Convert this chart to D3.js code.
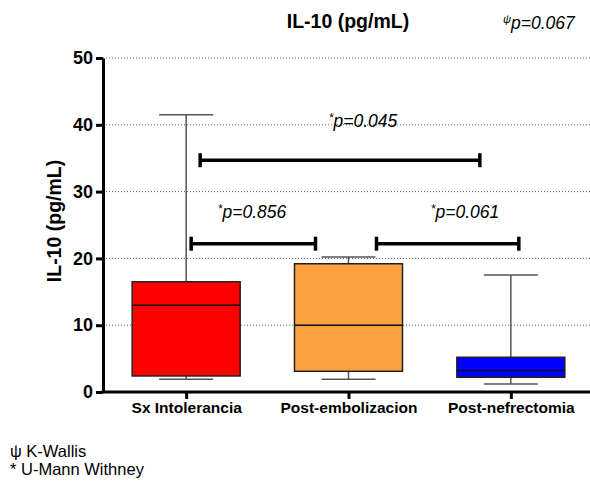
<!DOCTYPE html>
<html>
<head>
<meta charset="utf-8">
<script src="https://cdn.jsdelivr.net/npm/d3@7"></script>
<style>
  html, body { margin: 0; padding: 0; background: #fff; }
  svg { display: block; font-family: Arial, "Liberation Sans", sans-serif; }
</style>
</head>
<body>
<svg id="chart" width="590" height="483"></svg>
<script>
// Groups and their box-plot summaries (IL-10, pg/mL)
const groups = ["Sx Intolerancia", "Post-embolizacion", "Post-nefrectomia"];
const mins    = [1.9, 1.9, 1.2];
const q1s     = [2.4, 3.1, 2.2];
const medians = [13.0, 10.0, 3.2];
const q3s     = [16.5, 19.2, 5.2];
const maxs    = [41.5, 20.2, 17.5];
const colors  = ["#ff0000", "#fba13f", "#0000ff"];

const yTicks = [0, 10, 20, 30, 40, 50];

// Pairwise comparisons: from group, to group, bracket height, label
const compFrom   = [0, 1, 0];
const compTo     = [1, 2, 2];
const compLevel  = [22.2, 22.2, 34.7];
const compLabels = ["*p=0.856", "*p=0.061", "*p=0.045"];

const svg = d3.select("#chart");
const plotL = 103, plotR = 590, plotT = 58, plotB = 392;
const FONT = "Arial, 'Liberation Sans', sans-serif";

const y = d3.scaleLinear().domain([0, 50]).range([plotB, plotT]);
const x = d3.scalePoint().domain(groups).range([105, 592]).padding(0.5);

// Dotted grid lines
svg.append("g").selectAll("line")
  .data(yTicks.filter(d => d > 0))
  .join("line")
  .attr("x1", plotL).attr("x2", plotR)
  .attr("y1", d => y(d)).attr("y2", d => y(d))
  .attr("stroke", "#666").attr("stroke-width", 1)
  .attr("stroke-dasharray", "1,2");

// Y axis
const yAxis = svg.append("g").attr("transform", `translate(${plotL},0)`)
  .call(d3.axisLeft(y).tickValues(yTicks).tickSize(7).tickPadding(3).tickSizeOuter(0));
yAxis.select(".domain").attr("stroke", "#000").attr("stroke-width", 3);
yAxis.selectAll(".tick line").attr("stroke", "#000").attr("stroke-width", 3);
yAxis.selectAll(".tick text")
  .attr("font-size", 18).attr("font-weight", "bold").attr("fill", "#000")
  .attr("font-family", FONT);

// X axis
const xAxis = svg.append("g").attr("transform", `translate(0,${plotB})`)
  .call(d3.axisBottom(x).tickSize(7).tickPadding(3).tickSizeOuter(0));
xAxis.select(".domain").attr("stroke", "#000").attr("stroke-width", 3)
  .attr("d", `M${plotL - 1.5},0H${plotR}`);
xAxis.selectAll(".tick line").attr("stroke", "#000").attr("stroke-width", 3);
xAxis.selectAll(".tick text")
  .attr("font-size", 15.5).attr("font-weight", "bold").attr("fill", "#000")
  .attr("font-family", FONT);

// Box plots
const boxW = 108, capW = 54;
const boxes = svg.append("g").selectAll("g")
  .data(groups.map((g, i) => ({ g, i })))
  .join("g")
  .attr("transform", d => `translate(${x(d.g)},0)`);

boxes.append("line") // upper whisker
  .attr("x1", 0).attr("x2", 0)
  .attr("y1", d => y(maxs[d.i])).attr("y2", d => y(q3s[d.i]))
  .attr("stroke", "#555").attr("stroke-width", 1.5);
boxes.append("line") // lower whisker
  .attr("x1", 0).attr("x2", 0)
  .attr("y1", d => y(mins[d.i])).attr("y2", d => y(q1s[d.i]))
  .attr("stroke", "#555").attr("stroke-width", 1.5);
boxes.append("line") // upper cap
  .attr("x1", -capW / 2).attr("x2", capW / 2)
  .attr("y1", d => y(maxs[d.i])).attr("y2", d => y(maxs[d.i]))
  .attr("stroke", "#555").attr("stroke-width", 1.5);
boxes.append("line") // lower cap
  .attr("x1", -capW / 2).attr("x2", capW / 2)
  .attr("y1", d => y(mins[d.i])).attr("y2", d => y(mins[d.i]))
  .attr("stroke", "#555").attr("stroke-width", 1.5);
boxes.append("rect")
  .attr("x", -boxW / 2).attr("width", boxW)
  .attr("y", d => y(q3s[d.i]))
  .attr("height", d => y(q1s[d.i]) - y(q3s[d.i]))
  .attr("fill", d => colors[d.i])
  .attr("stroke", "#222").attr("stroke-width", 1.5);
boxes.append("line") // median
  .attr("x1", -boxW / 2).attr("x2", boxW / 2)
  .attr("y1", d => y(medians[d.i])).attr("y2", d => y(medians[d.i]))
  .attr("stroke", "#111").attr("stroke-width", 1.5);

// Comparison brackets
const brackets = svg.append("g");
const bracketInset = [[5, 33], [28, -8], [14, 31]];
compLabels.forEach((lab, k) => {
  const x1 = x(groups[compFrom[k]]) + bracketInset[k][0];
  const x2 = x(groups[compTo[k]]) - bracketInset[k][1];
  const yy = y(compLevel[k]);
  brackets.append("line").attr("x1", x1).attr("x2", x2).attr("y1", yy).attr("y2", yy)
    .attr("stroke", "#000").attr("stroke-width", 3.5);
  [x1, x2].forEach(xx => brackets.append("line")
    .attr("x1", xx).attr("x2", xx).attr("y1", yy - 7).attr("y2", yy + 7)
    .attr("stroke", "#000").attr("stroke-width", 3.5));
});

// p-value labels
const labelPos = [[252, 218], [465, 218], [363, 127]];
compLabels.forEach((lab, k) => {
  const t = svg.append("text")
    .attr("x", labelPos[k][0]).attr("y", labelPos[k][1])
    .attr("text-anchor", "middle").attr("font-size", 17.5)
    .attr("font-style", "italic").attr("fill", "#000");
  t.append("tspan").attr("font-size", 12).attr("dy", -5).text("*");
  t.append("tspan").attr("dy", 5).text(lab.slice(1));
});

// Title
svg.append("text").attr("x", 348).attr("y", 28).attr("text-anchor", "middle")
  .attr("font-size", 19.5).attr("font-weight", "bold").text("IL-10 (pg/mL)");

const kw = svg.append("text").attr("x", 503).attr("y", 29)
  .attr("font-size", 17.5).attr("font-style", "italic");
kw.append("tspan").attr("font-size", 11).attr("dy", -6).text("\u03C8");
kw.append("tspan").attr("dy", 6).text("p=0.067");

// Y axis title
svg.append("text")
  .attr("transform", "translate(61,221) rotate(-90)")
  .attr("text-anchor", "middle").attr("font-size", 19.5).attr("font-weight", "bold")
  .text("IL-10 (pg/mL)");

// Footnotes
svg.append("text").attr("x", 10).attr("y", 457).attr("font-size", 16.5).text("\u03C8 K-Wallis");
svg.append("text").attr("x", 10).attr("y", 475).attr("font-size", 16.5).text("* U-Mann Withney");
</script>
</body>
</html>
